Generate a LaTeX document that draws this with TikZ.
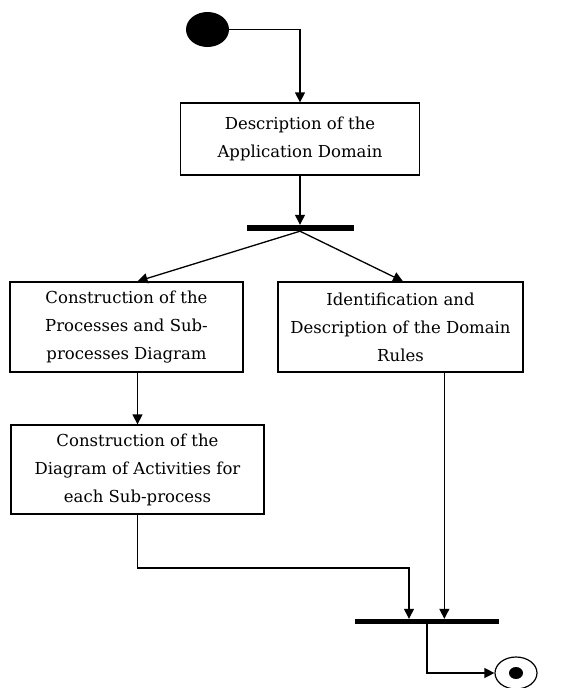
\documentclass[tikz,border=0pt]{standalone}
\usepackage{fontspec}
\setmainfont{DejaVu Serif}
\usetikzlibrary{shapes.geometric,arrows.meta,calc}
\begin{document}
\begin{tikzpicture}[x=1pt,y=-1pt,
  box/.style={draw,line width=1.3pt,rectangle,inner sep=0pt,align=center,font=\fontsize{16.5}{28}\selectfont},
  bar/.style={fill=black,rectangle,inner sep=0pt},
  conn/.style={line width=1.3pt},
  arr/.style={conn,-{Triangle[length=10pt,width=10pt]}}]
\useasboundingbox (0,0) rectangle (566,688);
\node[ellipse,fill=black,inner sep=0pt,minimum width=43pt,minimum height=35pt] (s) at (207.5,29.5) {};
\node[box,minimum width=239pt,minimum height=72pt] (b1) at (300,139) {Description of the\\Application Domain};
\node[bar,minimum width=107pt,minimum height=6pt] (bar1) at (300,228) {};
\node[box,minimum width=233pt,minimum height=90pt] (b2) at (126.5,327) {Construction of the\\Processes and Sub-\\processes Diagram};
\node[box,minimum width=245pt,minimum height=90pt] (b3) at (400.5,327) {Identification and\\Description of the Domain\\Rules};
\node[box,minimum width=253pt,minimum height=89pt] (b4) at (137.5,469.5) {Construction of the\\Diagram of Activities for\\each Sub-process};
\node[bar,minimum width=144pt,minimum height=5pt] (bar2) at (427,621.5) {};
\node[ellipse,draw,line width=1.2pt,inner sep=0pt,minimum width=42pt,minimum height=32pt] (e) at (516,673) {};
\node[ellipse,fill=black,inner sep=0pt,minimum width=14pt,minimum height=12pt] (ed) at (e.center) {};
\coordinate (j1) at (409,568);
\draw[arr] (s.east) -| (b1.north);
\draw[arr] (b1.south) -- (bar1.north);
\draw[arr] (bar1.south) -- (b2.north -| b4.north);
\draw[arr] (bar1.south) -- ($(b3.north)+(2.5,0)$);
\draw[arr] (b2.south -| b4.north) -- (b4.north);
\draw[arr] (b4.south) |- (j1) -- (j1 |- bar2.north);
\draw[arr] ($(b3.south west)+(167,0)$) coordinate (r) -- (r |- bar2.north);
\draw[arr] (bar2.south) |- (e.west);
\end{tikzpicture}
\end{document}
